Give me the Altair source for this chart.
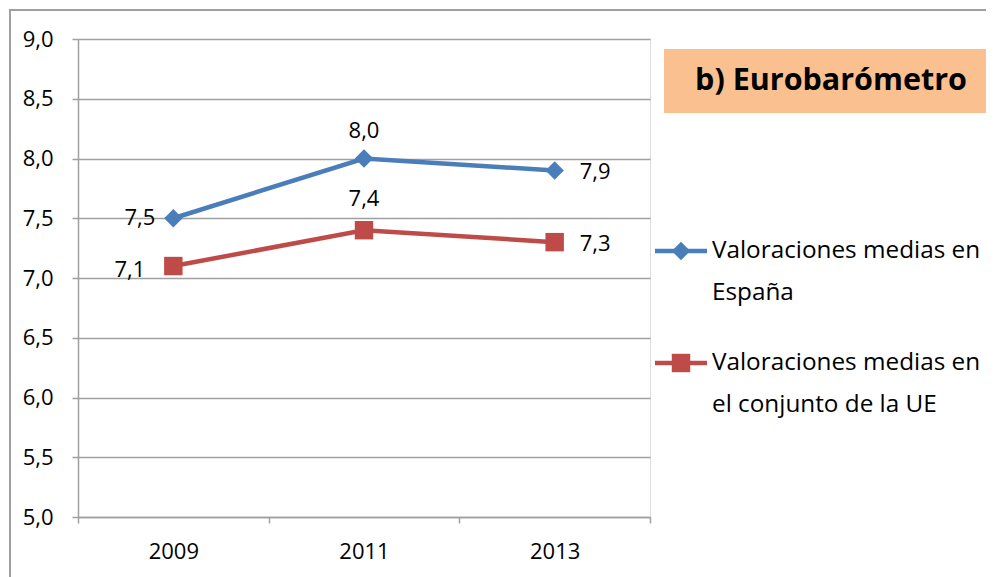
import altair as alt
import pandas as pd

years = ["2009", "2011", "2013"]
spain = [7.5, 8.0, 7.9]
ue = [7.1, 7.4, 7.3]
series = ["España", "UE"]
label_pos = ["left", "above", "right"]
legend_lines = [["Valoraciones medias en", "España"],
                ["Valoraciones medias en", "el conjunto de la UE"]]
title_text = "b) Eurobarómetro"
y_ticks = [5.0, 5.5, 6.0, 6.5, 7.0, 7.5, 8.0, 8.5, 9.0]

BLUE = "#4A7EBB"
RED = "#BE4B48"
GRID = "#A0A0A0"
FONT = "Open Sans"

rows = []
for s, vals in zip(series, [spain, ue]):
    for y, v, p in zip(years, vals, label_pos):
        rows.append({"year": y, "value": v, "serie": s, "pos": p})
df = pd.DataFrame(rows)

W, H = 572, 478

xenc = alt.X("year:N",
             scale=alt.Scale(type="band", paddingInner=0, paddingOuter=0),
             bandPosition=0.5,
             axis=alt.Axis(title=None, labelAngle=0, tickBand="extent", grid=False,
                           domainColor=GRID, tickColor=GRID, tickSize=6, domainWidth=1.5,
                           tickWidth=1.5, labelFontSize=22, labelColor="#000",
                           labelPadding=18, labelFont=FONT))
yenc = alt.Y("value:Q",
             scale=alt.Scale(domain=[5, 9], nice=False, zero=False),
             axis=alt.Axis(title=None, values=y_ticks,
                           labelExpr="replace(format(datum.value,'.1f'),'.',',')",
                           grid=True, gridColor=GRID, gridWidth=1.5,
                           domainColor=GRID, tickColor=GRID, tickSize=6, domainWidth=1.5,
                           tickWidth=1.5, labelFontSize=22, labelColor="#000",
                           labelPadding=19, labelFont=FONT))
color = alt.Color("serie:N", scale=alt.Scale(domain=series, range=[BLUE, RED]), legend=None)
shape = alt.Shape("serie:N", scale=alt.Scale(domain=series, range=["diamond", "square"]), legend=None)

one = alt.Data(values=[{"a": 1}])

border = alt.Chart(one).mark_rect(fillOpacity=0, stroke=GRID, strokeWidth=2).encode(
    x=alt.value(-68), x2=alt.value(1200), y=alt.value(-29), y2=alt.value(800))

base = alt.Chart(df)
lines = base.mark_line(strokeWidth=4.5).encode(x=xenc, y=yenc, color=color, detail="serie:N")
points = base.mark_point(filled=True, size=340, opacity=1).encode(x=xenc, y=yenc, color=color, shape=shape)

lab = base.transform_calculate(label="replace(format(datum.value,'.1f'),'.',',')")
txt_kw = dict(fontSize=22, font=FONT, color="#000", baseline="middle")
# (serie, pos, align, dx, dy)
label_styles = [
    ("España", "left", "right", -18, 0),
    ("España", "above", "center", 0, -28),
    ("España", "right", "left", 25, 2),
    ("UE", "left", "right", -28, 4),
    ("UE", "above", "center", 0, -31),
    ("UE", "right", "left", 25, 2),
]
label_layers = []
for s, p, al, dx, dy in label_styles:
    label_layers.append(
        lab.transform_filter(f"datum.serie=='{s}' && datum.pos=='{p}'")
        .mark_text(align=al, dx=dx, dy=dy, **txt_kw)
        .encode(x=xenc, y=yenc, text="label:N"))

# title box
tbox = alt.Chart(one).mark_rect(fill="#FAC090").encode(
    x=alt.value(586), x2=alt.value(1200), y=alt.value(10), y2=alt.value(74))
ttext = alt.Chart(one).mark_text(text=title_text, fontSize=30.5, fontWeight="bold", font=FONT,
                                 align="center", baseline="middle", color="#000").encode(
    x=alt.value(753), y=alt.value(42))

# legend
leg_layers = []
for i, (s, c, shp) in enumerate(zip(series, [BLUE, RED], ["diamond", "square"])):
    yy = 212 + i * 112
    leg_layers.append(alt.Chart(one).mark_rule(color=c, strokeWidth=4.5).encode(
        x=alt.value(577), x2=alt.value(629), y=alt.value(yy)))
    leg_layers.append(alt.Chart(one).mark_point(filled=True, size=340, opacity=1, color=c, shape=shp).encode(
        x=alt.value(603), y=alt.value(yy)))
    for j, line in enumerate(legend_lines[i]):
        leg_layers.append(alt.Chart(one).mark_text(text=line, fontSize=24.3, font=FONT, align="left",
                                                   baseline="middle", color="#000").encode(
            x=alt.value(634), y=alt.value(yy + j * 42)))

chart = alt.layer(border, lines, points, *label_layers, tbox, ttext, *leg_layers).properties(
    width=W, height=H,
    autosize=alt.AutoSizeParams(type="none"),
    padding={"left": 70, "top": 31, "right": 336, "bottom": 60},
).configure_view(stroke=None).configure(background="white")

chart.save("out.html", embed_options={"renderer": "svg", "actions": False})
